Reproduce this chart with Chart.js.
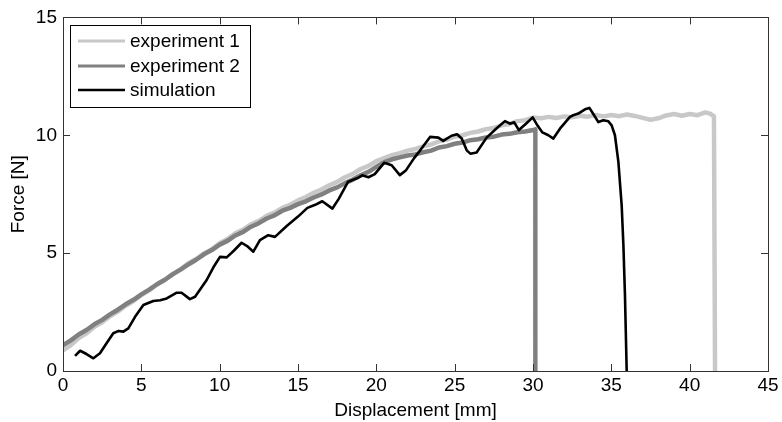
<!DOCTYPE html>
<html>
<head>
<meta charset="utf-8">
<script src="https://cdn.jsdelivr.net/npm/chart.js@4.4.1/dist/chart.umd.min.js"></script>
<style>
  html, body { margin: 0; padding: 0; background: #fff; }
  #wrap { width: 782px; height: 422px; }
</style>
</head>
<body>
<div id="wrap"><canvas id="c" width="782" height="422"></canvas></div>
<script>
// ---- data ----
const seriesLabels = ['experiment 1', 'experiment 2', 'simulation'];
const xTicks = [0, 5, 10, 15, 20, 25, 30, 35, 40, 45];
const yTicks = [0, 5, 10, 15];

const exp1X = [0,0.5,1,1.5,2,2.5,3,3.5,4,4.5,5,5.5,6,6.5,7,7.5,8,8.5,9,9.5,10,10.5,11,11.5,12,12.5,13,13.5,14,14.5,15,15.5,16,16.5,17,17.5,18,18.5,19,19.5,20,20.5,21,21.5,22,22.5,23,23.5,24,24.5,25,25.5,26,26.5,27,27.5,28,28.5,29,29.5,30,30.5,31,31.5,32,32.5,33,33.5,34,34.5,35,35.5,36,36.5,37,37.5,38,38.5,39,39.5,40,40.5,41,41.3,41.55,41.62];
const exp1Y = [0.88,1.10,1.40,1.60,1.87,2.07,2.32,2.52,2.77,2.97,3.22,3.42,3.67,3.86,4.12,4.31,4.57,4.75,4.99,5.17,5.42,5.60,5.84,6.00,6.22,6.37,6.58,6.72,6.92,7.05,7.24,7.38,7.56,7.70,7.88,8.02,8.22,8.36,8.57,8.70,8.90,9.03,9.16,9.24,9.35,9.42,9.53,9.61,9.74,9.82,9.94,10.00,10.10,10.16,10.26,10.31,10.42,10.48,10.60,10.64,10.75,10.72,10.78,10.73,10.80,10.76,10.83,10.79,10.86,10.80,10.86,10.81,10.88,10.82,10.74,10.66,10.72,10.84,10.90,10.83,10.90,10.85,10.97,10.92,10.80,0];

const exp2X = [0,0.5,1,1.5,2,2.5,3,3.5,4,4.5,5,5.5,6,6.5,7,7.5,8,8.5,9,9.5,10,10.5,11,11.5,12,12.5,13,13.5,14,14.5,15,15.5,16,16.5,17,17.5,18,18.5,19,19.5,20,20.5,21,21.5,22,22.5,23,23.5,24,24.5,25,25.5,26,26.5,27,27.5,28,28.5,29,29.5,30,30.15,30.15];
const exp2Y = [1.10,1.30,1.55,1.74,1.98,2.17,2.40,2.60,2.83,3.02,3.25,3.45,3.68,3.87,4.10,4.30,4.52,4.72,4.95,5.13,5.36,5.52,5.75,5.90,6.12,6.27,6.47,6.60,6.80,6.92,7.08,7.20,7.36,7.49,7.66,7.79,7.97,8.12,8.30,8.45,8.66,8.86,8.98,9.06,9.14,9.19,9.28,9.35,9.48,9.54,9.64,9.69,9.79,9.83,9.91,9.94,10.03,10.06,10.13,10.16,10.22,10.25,0];

const simX = [0.77,1.09,1.5,1.94,2.36,2.8,3.21,3.55,3.85,4.17,4.6,5.13,5.76,6.2,6.62,7.26,7.57,8.1,8.43,9.17,9.6,10.02,10.45,10.9,11.4,11.75,12.15,12.57,13.1,13.53,14.28,15.0,15.6,16.1,16.55,17.2,17.6,18.2,18.85,19.1,19.5,19.9,20.5,20.98,21.5,21.9,22.4,22.8,23.43,23.96,24.27,24.8,25.15,25.45,25.77,26.0,26.4,27.04,27.68,28.21,28.53,28.8,29.1,29.55,29.98,30.3,30.6,30.98,31.3,31.72,32.36,32.57,32.89,33.32,33.6,33.9,34.17,34.49,34.81,35.02,35.23,35.45,35.66,35.77,35.87,35.98];
const simY = [0.64,0.86,0.72,0.54,0.75,1.2,1.6,1.7,1.67,1.81,2.3,2.80,2.97,3.0,3.08,3.32,3.32,3.05,3.15,3.86,4.4,4.84,4.82,5.1,5.44,5.3,5.06,5.55,5.76,5.69,6.15,6.55,6.92,7.05,7.2,6.89,7.3,8.03,8.2,8.3,8.22,8.35,8.83,8.73,8.31,8.52,9.02,9.36,9.93,9.9,9.76,9.98,10.04,9.86,9.36,9.22,9.27,9.9,10.3,10.6,10.49,10.55,10.22,10.49,10.76,10.4,10.12,10.0,9.86,10.28,10.78,10.85,10.92,11.1,11.16,10.85,10.56,10.64,10.59,10.42,10.0,8.87,7.03,5.34,3.22,0];

const colors = ['rgb(200,200,200)', 'rgb(128,128,128)', 'rgb(0,0,0)'];
const widths = [4.5, 4.5, 2.6];

function pts(xs, ys) { return xs.map((x, i) => ({ x: x, y: ys[i] })); }

const FONT = '"Liberation Sans", Arial, sans-serif';
const FS = 19;

// inward ticks, full box and legend
const boxPlugin = {
  id: 'box',
  afterDraw(chart) {
    const { ctx, chartArea: a, scales } = chart;
    ctx.save();
    ctx.strokeStyle = '#333';
    ctx.lineWidth = 1;
    const L = 7;
    ctx.beginPath();
    xTicks.forEach(v => {
      const px = Math.round(scales.x.getPixelForValue(v)) + 0.5;
      ctx.moveTo(px, a.bottom); ctx.lineTo(px, a.bottom - L);
      ctx.moveTo(px, a.top); ctx.lineTo(px, a.top + L);
    });
    yTicks.forEach(v => {
      const py = Math.round(scales.y.getPixelForValue(v)) + 0.5;
      ctx.moveTo(a.left, py); ctx.lineTo(a.left + L, py);
      ctx.moveTo(a.right, py); ctx.lineTo(a.right - L, py);
    });
    ctx.stroke();
    ctx.strokeRect(Math.round(a.left) + 0.5, Math.round(a.top) + 0.5,
                   Math.round(a.right - a.left), Math.round(a.bottom - a.top));
    // legend
    const bx = 70.5, by = 25.5, bw = 180, bh = 82;
    ctx.fillStyle = '#fff';
    ctx.fillRect(bx, by, bw, bh);
    ctx.strokeStyle = '#000';
    ctx.strokeRect(bx, by, bw, bh);
    const rows = [41, 66, 90];
    ctx.font = FS + 'px ' + FONT;
    ctx.textBaseline = 'middle';
    chart.data.datasets.forEach((ds, i) => {
      ctx.strokeStyle = ds.borderColor;
      ctx.lineWidth = i === 2 ? 2.6 : 3;
      ctx.beginPath();
      ctx.moveTo(78, rows[i]); ctx.lineTo(125, rows[i]);
      ctx.stroke();
      ctx.fillStyle = '#000';
      ctx.fillText(ds.label, 130, rows[i] + 1);
    });
    ctx.restore();
  }
};

new Chart(document.getElementById('c'), {
  type: 'line',
  data: {
    datasets: [
      { label: seriesLabels[0], data: pts(exp1X, exp1Y), borderColor: colors[0], borderWidth: widths[0], order: 3 },
      { label: seriesLabels[1], data: pts(exp2X, exp2Y), borderColor: colors[1], borderWidth: widths[1], order: 2 },
      { label: seriesLabels[2], data: pts(simX, simY), borderColor: colors[2], borderWidth: widths[2], order: 1 }
    ]
  },
  options: {
    responsive: false,
    animation: false,
    devicePixelRatio: 1,
    layout: { padding: { top: 17, right: 14, left: 0, bottom: 0 } },
    elements: { point: { radius: 0 }, line: { tension: 0, borderJoinStyle: 'round', borderCapStyle: 'butt' } },
    plugins: { legend: { display: false }, tooltip: { enabled: false } },
    scales: {
      x: {
        type: 'linear', min: 0, max: 45,
        afterFit(s) { s.height = 51; },
        afterBuildTicks(s) { s.ticks = xTicks.map(v => ({ value: v })); },
        grid: { display: false, drawTicks: false },
        border: { display: false },
        ticks: { color: '#000', padding: 3, font: { family: FONT, size: FS }, maxRotation: 0 },
        title: { display: true, text: 'Displacement [mm]', color: '#000', font: { family: FONT, size: FS }, padding: { top: 0, bottom: 0 } }
      },
      y: {
        type: 'linear', min: 0, max: 15,
        afterFit(s) { s.width = 63; },
        afterBuildTicks(s) { s.ticks = yTicks.map(v => ({ value: v })); },
        grid: { display: false, drawTicks: false },
        border: { display: false },
        ticks: { color: '#000', padding: 6, font: { family: FONT, size: FS } },
        title: { display: true, text: 'Force [N]', color: '#000', font: { family: FONT, size: FS }, padding: { top: 7, bottom: 0 } }
      }
    }
  },
  plugins: [boxPlugin]
});
</script>
</body>
</html>
